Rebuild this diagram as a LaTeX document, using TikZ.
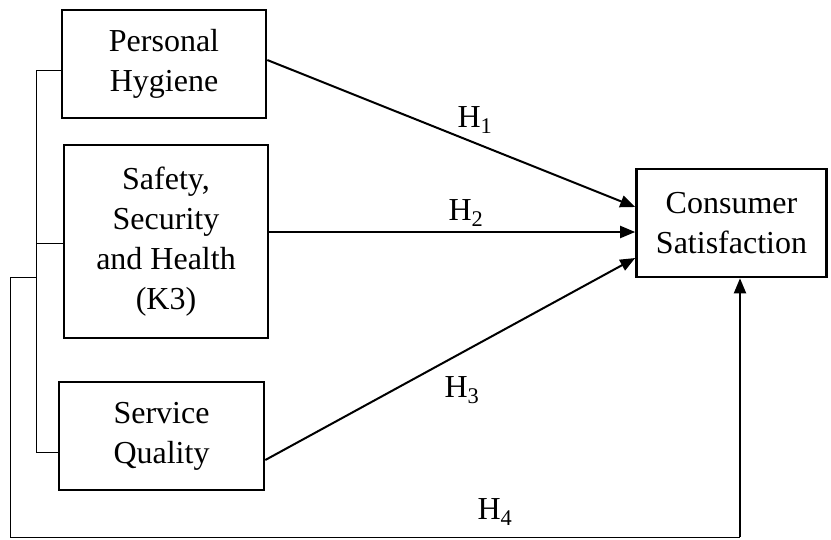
\documentclass[tikz,border=0pt]{standalone}
\usepackage{fontspec}
\setmainfont{Liberation Serif}
\usetikzlibrary{arrows.meta,calc}
\begin{document}
\begin{tikzpicture}[x=1pt,y=-1pt,
  box/.style={draw,line width=2.6pt,align=center,inner sep=0pt,
    font=\fontsize{32}{40}\selectfont},
  arr/.style={line width=2pt,-{Triangle[length=15pt,width=12pt]}},
  thin/.style={line width=1pt},
  lab/.style={font=\fontsize{32}{40}\selectfont}]
\useasboundingbox (0,0) rectangle (831,539);
\node[box,minimum width=204pt,minimum height=108pt] (ph) at (164,64) {Personal\\Hygiene};
\node[box,minimum width=204pt,minimum height=193pt] (saf) at (166,241.5) {Safety,\\Security\\and Health\\(K3)};
\node[box,minimum width=205pt,minimum height=108pt] (sq) at (161.5,436) {Service\\Quality};
\node[box,minimum width=190pt,minimum height=108pt] (cs) at (731.5,223) {Consumer\\Satisfaction};
% bracket
\coordinate (b1) at (36,70);
\coordinate (b3) at (36,452);
\coordinate (b4) at (10,277);
\coordinate (b5) at (10,537);
\coordinate (b6) at (740,537);
\draw[thin] (b1) -- (b3);
\draw[thin] (b1) -- ($(ph.west)+(0,6)$);
\draw[thin] (36,243) -- ($(saf.west)+(0,1.5)$);
\draw[thin] (b3) -- ($(sq.west)+(0,16)$);
\draw[thin] (b4) -- (36,277);
\draw[thin] (b4) -- (b5) -- (b6);
\draw[arr] (b6) -- ($(cs.south)+(8.5,0)$);
% arrows
\draw[arr] ($(ph.east)+(0,-4)$) -- ($(cs.west)+(0,-16)$);
\draw[arr] ($(saf.east)+(0,-9.5)$) -- ($(cs.west)+(0,9)$);
\draw[arr] ($(sq.east)+(0,24)$) -- ($(cs.west)+(0,35)$);
% labels
\node[lab] (h1) at (475,120) {H\textsubscript{1}};
\node[lab] (h2) at (466,213) {H\textsubscript{2}};
\node[lab] (h3) at (462,390) {H\textsubscript{3}};
\node[lab] (h4) at (495,512) {H\textsubscript{4}};
\end{tikzpicture}
\end{document}
